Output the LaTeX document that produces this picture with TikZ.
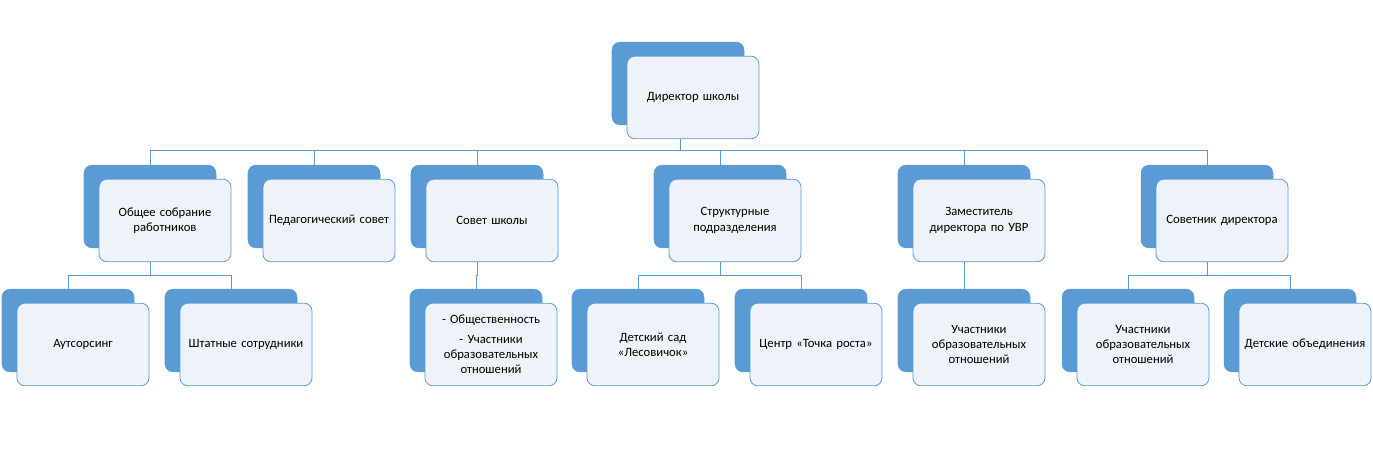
\documentclass[tikz,border=0pt]{standalone}
\usepackage{fontspec}
\setmainfont{Carlito}
\begin{document}
\begin{tikzpicture}[x=0.75pt,y=-0.75pt,
  backbox/.style={fill=blue5,draw=blue5,rounded corners=6pt,minimum width=99pt,minimum height=62pt,inner sep=0pt},
  frontbox/.style={fill=front,draw=blue5,line width=0.6pt,rounded corners=6pt,minimum width=99pt,minimum height=62pt,inner sep=2pt,text width=92pt,align=center,font=\fontsize{9.5pt}{11.5pt}\selectfont},
  conn/.style={draw=blue5,line width=0.6pt}]
\definecolor{blue5}{HTML}{5B9BD5}
\definecolor{front}{HTML}{EEF3FA}
\useasboundingbox (0,0) rectangle (1373,456);
\newcommand\unitbox[4]{%
  \node[backbox] (#1b) at (#2+66,#3+41.5) {};
  \node[frontbox] (#1) at (#2+81,#3+55.5) {#4};}
\unitbox{dir}{612}{42}{Директор школы}
\unitbox{ga}{84}{165}{Общее собрание работников}
\unitbox{gb}{248}{165}{Педагогический совет}
\unitbox{gc}{411}{165}{Совет школы}
\unitbox{gd}{654}{165}{Структурные подразделения}
\unitbox{ge}{898}{165}{Заместитель директора по УВР}
\unitbox{gf}{1141}{165}{Советник директора}
\unitbox{ha}{2}{289}{Аутсорсинг}
\unitbox{hb}{165}{289}{Штатные сотрудники}
\unitbox{hc}{410}{289}{- Общественность\\[3pt]- Участники образовательных отношений}
\unitbox{hd}{572}{289}{Детский сад «Лесовичок»}
\unitbox{he}{735}{289}{Центр «Точка роста»}
\unitbox{hf}{898}{289}{Участники образовательных отношений}
\unitbox{hg}{1062}{289}{Участники образовательных отношений}
\unitbox{hh}{1224}{289}{Детские объединения}
\coordinate (bus1) at (0,150);
\coordinate (bus2) at (0,275);
\coordinate (dirdrop) at (680,0);
\foreach \g in {ga,gb,gc,gd,ge,gf}{
  \draw[conn] (dir.south -| dirdrop) -- (dirdrop |- bus1) -| (\g b.north);}
\draw[conn] (gab.south |- ga.south) -- (gab.south |- bus2) -| (hab.north);
\draw[conn] (gab.south |- bus2) -| (hbb.north);
\draw[conn] (gcb.south |- gc.south) -- (gcb.south |- bus2) -| (hcb.north);
\draw[conn] (gdb.south |- gd.south) -- (gdb.south |- bus2) -| (hdb.north);
\draw[conn] (gdb.south |- bus2) -| (heb.north);
\draw[conn] (geb.south |- ge.south) -- (hfb.north);
\draw[conn] (gfb.south |- gf.south) -- (gfb.south |- bus2) -| (hgb.north);
\draw[conn] (gfb.south |- bus2) -| (hhb.north);
\end{tikzpicture}
\end{document}
